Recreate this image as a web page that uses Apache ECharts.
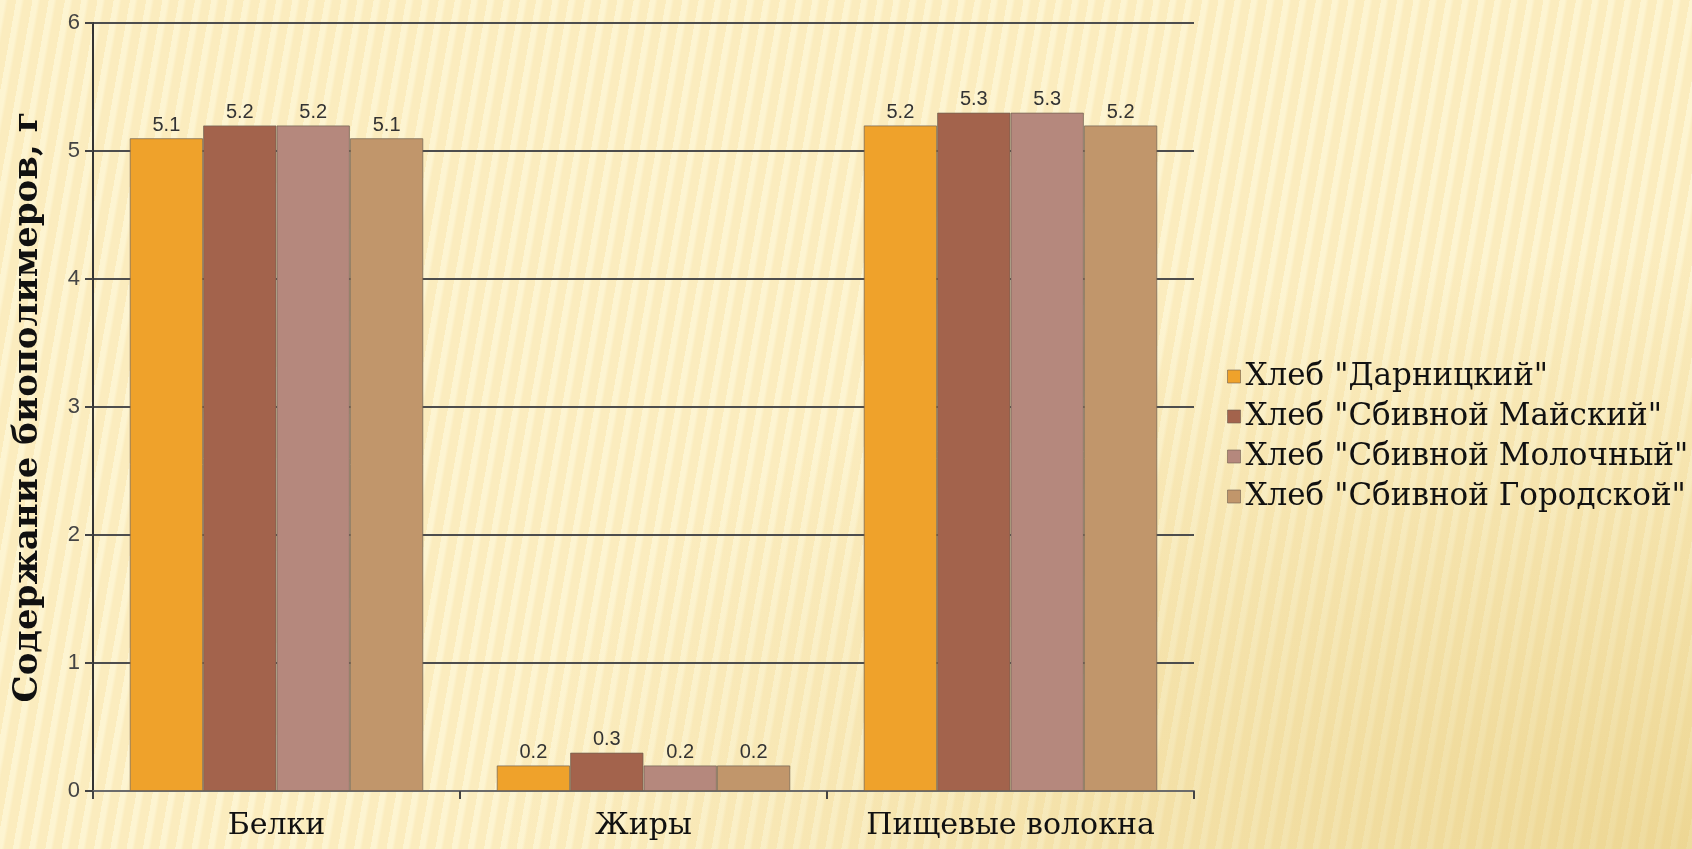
<!DOCTYPE html>
<html>
<head>
<meta charset="utf-8">
<script src="https://cdn.jsdelivr.net/npm/echarts@6/dist/echarts.min.js"></script>
<style>
html, body { margin: 0; padding: 0; width: 1692px; height: 849px; overflow: hidden; }
body {
  background-color: #fbecbe;
  background-image:
    radial-gradient(ellipse at 100% 100%, rgba(220,188,95,0.45) 0%, rgba(220,188,95,0) 50%),
    repeating-linear-gradient(100deg, rgba(255,250,222,0.6) 0px, rgba(255,250,222,0.6) 5px, rgba(255,250,222,0) 8px, rgba(255,250,222,0) 16px);
}
#chart { width: 1692px; height: 849px; }
</style>
</head>
<body>
<div id="chart"></div>
<script>
var categories = ['Белки', 'Жиры', 'Пищевые волокна'];
var seriesNames = ['Хлеб "Дарницкий"', 'Хлеб "Сбивной Майский"', 'Хлеб "Сбивной Молочный"', 'Хлеб "Сбивной Городской"'];
var darnitsky = [5.1, 0.2, 5.2];
var maysky = [5.2, 0.3, 5.3];
var molochny = [5.2, 0.2, 5.3];
var gorodskoy = [5.1, 0.2, 5.2];
var colors = ['#efa22b', '#a3634c', '#b5887d', '#c1966b'];

var chartDom = document.getElementById('chart');
var myChart = echarts.init(chartDom);

function makeSeries(name, values) {
  return {
    name: name,
    type: 'bar',
    data: values,
    barGap: '0%',
    barCategoryGap: '20%',
    itemStyle: {
      borderColor: 'rgba(110,95,80,0.7)',
      borderWidth: 1
    },
    label: {
      show: true,
      position: 'top',
      distance: 3,
      fontSize: 20,
      fontFamily: 'Liberation Sans',
      color: '#333'
    }
  };
}

var option = {
  animation: false,
  color: colors,
  grid: {
    left: 93,
    right: 498,
    top: 23,
    bottom: 58,
    outerBoundsMode: 'none'
  },
  legend: {
    orient: 'vertical',
    left: 1227,
    top: 360,
    padding: 0,
    icon: 'rect',
    itemWidth: 13,
    itemHeight: 13,
    itemGap: 7,
    itemStyle: { borderColor: 'rgba(110,95,80,0.6)', borderWidth: 1 },
    textStyle: {
      fontSize: 31,
      lineHeight: 33,
      fontFamily: 'DejaVu Serif',
      color: '#111'
    },
    data: seriesNames
  },
  xAxis: {
    type: 'category',
    data: categories,
    axisLine: { lineStyle: { color: '#6b6b6b', width: 2 } },
    axisTick: { show: true, interval: 0, length: 8, lineStyle: { color: '#444', width: 2 } },
    axisLabel: {
      interval: 0,
      fontSize: 30,
      fontFamily: 'DejaVu Serif',
      color: '#111',
      margin: 20
    }
  },
  yAxis: {
    type: 'value',
    min: 0,
    max: 6,
    interval: 1,
    name: 'Содержание биополимеров, г',
    nameLocation: 'middle',
    nameGap: 48,
    nameTextStyle: {
      fontSize: 34,
      fontWeight: 'bold',
      fontFamily: 'DejaVu Serif',
      color: '#111'
    },
    axisLine: { show: true, lineStyle: { color: '#333', width: 2 } },
    axisTick: { show: true, length: 8, lineStyle: { color: '#444', width: 2 } },
    axisLabel: {
      fontSize: 22,
      fontFamily: 'Liberation Sans',
      color: '#444',
      margin: 13
    },
    splitLine: { lineStyle: { color: '#4d4d4d', width: 2 } }
  },
  series: [
    makeSeries(seriesNames[0], darnitsky),
    makeSeries(seriesNames[1], maysky),
    makeSeries(seriesNames[2], molochny),
    makeSeries(seriesNames[3], gorodskoy)
  ]
};

option && myChart.setOption(option);
</script>
</body>
</html>
